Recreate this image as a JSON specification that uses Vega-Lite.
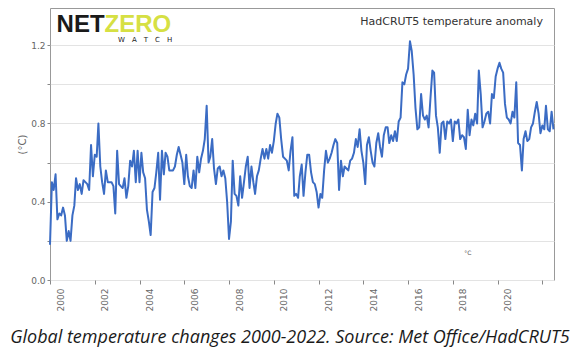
{
  "$schema": "https://vega.github.io/schema/vega-lite/v6.json",
  "autosize": {"type": "none"},
  "width": 504,
  "height": 272,
  "padding": {"left": 50, "top": 8, "right": 22, "bottom": 76},
  "background": "white",
  "title": {"text": "Global temperature changes 2000-2022. Source: Met Office/HadCRUT5", "orient": "bottom", "anchor": "middle", "frame": "group", "font": "Open Sans", "fontStyle": "italic", "fontWeight": "normal", "fontSize": 18, "color": "#1a1a1a", "offset": 18, "dx": -12},
  "config": {
    "view": {"stroke": "#999", "strokeWidth": 1},
    "axis": {"labelFont": "DejaVu Sans", "labelColor": "#666", "labelFontSize": 9, "titleFont": "DejaVu Sans", "titleColor": "#666", "titleFontWeight": "normal", "domain": false, "tickColor": "#888"}
  },
  "layer": [
    {
      "data": {"values": [
        {"date":"2000-01","anomaly":0.18},{"date":"2000-02","anomaly":0.50},{"date":"2000-03","anomaly":0.46},{"date":"2000-04","anomaly":0.54},{"date":"2000-05","anomaly":0.31},{"date":"2000-06","anomaly":0.34},{"date":"2000-07","anomaly":0.33},{"date":"2000-08","anomaly":0.37},{"date":"2000-09","anomaly":0.33},{"date":"2000-10","anomaly":0.20},{"date":"2000-11","anomaly":0.25},{"date":"2000-12","anomaly":0.20},
        {"date":"2001-01","anomaly":0.33},{"date":"2001-02","anomaly":0.38},{"date":"2001-03","anomaly":0.52},{"date":"2001-04","anomaly":0.46},{"date":"2001-05","anomaly":0.49},{"date":"2001-06","anomaly":0.44},{"date":"2001-07","anomaly":0.51},{"date":"2001-08","anomaly":0.50},{"date":"2001-09","anomaly":0.49},{"date":"2001-10","anomaly":0.46},{"date":"2001-11","anomaly":0.69},{"date":"2001-12","anomaly":0.53},
        {"date":"2002-01","anomaly":0.64},{"date":"2002-02","anomaly":0.63},{"date":"2002-03","anomaly":0.80},{"date":"2002-04","anomaly":0.58},{"date":"2002-05","anomaly":0.50},{"date":"2002-06","anomaly":0.44},{"date":"2002-07","anomaly":0.56},{"date":"2002-08","anomaly":0.50},{"date":"2002-09","anomaly":0.50},{"date":"2002-10","anomaly":0.50},{"date":"2002-11","anomaly":0.48},{"date":"2002-12","anomaly":0.34},
        {"date":"2003-01","anomaly":0.66},{"date":"2003-02","anomaly":0.49},{"date":"2003-03","anomaly":0.48},{"date":"2003-04","anomaly":0.47},{"date":"2003-05","anomaly":0.52},{"date":"2003-06","anomaly":0.42},{"date":"2003-07","anomaly":0.48},{"date":"2003-08","anomaly":0.61},{"date":"2003-09","anomaly":0.58},{"date":"2003-10","anomaly":0.66},{"date":"2003-11","anomaly":0.50},{"date":"2003-12","anomaly":0.66},
        {"date":"2004-01","anomaly":0.50},{"date":"2004-02","anomaly":0.65},{"date":"2004-03","anomaly":0.55},{"date":"2004-04","anomaly":0.52},{"date":"2004-05","anomaly":0.36},{"date":"2004-06","anomaly":0.30},{"date":"2004-07","anomaly":0.23},{"date":"2004-08","anomaly":0.45},{"date":"2004-09","anomaly":0.47},{"date":"2004-10","anomaly":0.55},{"date":"2004-11","anomaly":0.65},{"date":"2004-12","anomaly":0.41},
        {"date":"2005-01","anomaly":0.66},{"date":"2005-02","anomaly":0.54},{"date":"2005-03","anomaly":0.65},{"date":"2005-04","anomaly":0.63},{"date":"2005-05","anomaly":0.56},{"date":"2005-06","anomaly":0.56},{"date":"2005-07","anomaly":0.56},{"date":"2005-08","anomaly":0.58},{"date":"2005-09","anomaly":0.64},{"date":"2005-10","anomaly":0.68},{"date":"2005-11","anomaly":0.64},{"date":"2005-12","anomaly":0.60},
        {"date":"2006-01","anomaly":0.49},{"date":"2006-02","anomaly":0.64},{"date":"2006-03","anomaly":0.53},{"date":"2006-04","anomaly":0.48},{"date":"2006-05","anomaly":0.47},{"date":"2006-06","anomaly":0.56},{"date":"2006-07","anomaly":0.47},{"date":"2006-08","anomaly":0.63},{"date":"2006-09","anomaly":0.55},{"date":"2006-10","anomaly":0.62},{"date":"2006-11","anomaly":0.66},{"date":"2006-12","anomaly":0.72},
        {"date":"2007-01","anomaly":0.89},{"date":"2007-02","anomaly":0.60},{"date":"2007-03","anomaly":0.63},{"date":"2007-04","anomaly":0.72},{"date":"2007-05","anomaly":0.57},{"date":"2007-06","anomaly":0.49},{"date":"2007-07","anomaly":0.57},{"date":"2007-08","anomaly":0.58},{"date":"2007-09","anomaly":0.53},{"date":"2007-10","anomaly":0.56},{"date":"2007-11","anomaly":0.52},{"date":"2007-12","anomaly":0.40},
        {"date":"2008-01","anomaly":0.21},{"date":"2008-02","anomaly":0.30},{"date":"2008-03","anomaly":0.61},{"date":"2008-04","anomaly":0.44},{"date":"2008-05","anomaly":0.43},{"date":"2008-06","anomaly":0.38},{"date":"2008-07","anomaly":0.53},{"date":"2008-08","anomaly":0.42},{"date":"2008-09","anomaly":0.50},{"date":"2008-10","anomaly":0.58},{"date":"2008-11","anomaly":0.63},{"date":"2008-12","anomaly":0.47},
        {"date":"2009-01","anomaly":0.58},{"date":"2009-02","anomaly":0.50},{"date":"2009-03","anomaly":0.44},{"date":"2009-04","anomaly":0.53},{"date":"2009-05","anomaly":0.56},{"date":"2009-06","anomaly":0.62},{"date":"2009-07","anomaly":0.67},{"date":"2009-08","anomaly":0.62},{"date":"2009-09","anomaly":0.67},{"date":"2009-10","anomaly":0.62},{"date":"2009-11","anomaly":0.69},{"date":"2009-12","anomaly":0.65},
        {"date":"2010-01","anomaly":0.71},{"date":"2010-02","anomaly":0.80},{"date":"2010-03","anomaly":0.85},{"date":"2010-04","anomaly":0.83},{"date":"2010-05","anomaly":0.72},{"date":"2010-06","anomaly":0.63},{"date":"2010-07","anomaly":0.62},{"date":"2010-08","anomaly":0.61},{"date":"2010-09","anomaly":0.56},{"date":"2010-10","anomaly":0.66},{"date":"2010-11","anomaly":0.73},{"date":"2010-12","anomaly":0.43},
        {"date":"2011-01","anomaly":0.44},{"date":"2011-02","anomaly":0.42},{"date":"2011-03","anomaly":0.53},{"date":"2011-04","anomaly":0.59},{"date":"2011-05","anomaly":0.43},{"date":"2011-06","anomaly":0.55},{"date":"2011-07","anomaly":0.64},{"date":"2011-08","anomaly":0.64},{"date":"2011-09","anomaly":0.55},{"date":"2011-10","anomaly":0.50},{"date":"2011-11","anomaly":0.49},{"date":"2011-12","anomaly":0.45},
        {"date":"2012-01","anomaly":0.37},{"date":"2012-02","anomaly":0.44},{"date":"2012-03","anomaly":0.42},{"date":"2012-04","anomaly":0.56},{"date":"2012-05","anomaly":0.66},{"date":"2012-06","anomaly":0.60},{"date":"2012-07","anomaly":0.62},{"date":"2012-08","anomaly":0.65},{"date":"2012-09","anomaly":0.69},{"date":"2012-10","anomaly":0.72},{"date":"2012-11","anomaly":0.70},{"date":"2012-12","anomaly":0.46},
        {"date":"2013-01","anomaly":0.61},{"date":"2013-02","anomaly":0.53},{"date":"2013-03","anomaly":0.58},{"date":"2013-04","anomaly":0.57},{"date":"2013-05","anomaly":0.56},{"date":"2013-06","anomaly":0.61},{"date":"2013-07","anomaly":0.62},{"date":"2013-08","anomaly":0.65},{"date":"2013-09","anomaly":0.72},{"date":"2013-10","anomaly":0.68},{"date":"2013-11","anomaly":0.77},{"date":"2013-12","anomaly":0.66},
        {"date":"2014-01","anomaly":0.60},{"date":"2014-02","anomaly":0.49},{"date":"2014-03","anomaly":0.69},{"date":"2014-04","anomaly":0.73},{"date":"2014-05","anomaly":0.66},{"date":"2014-06","anomaly":0.60},{"date":"2014-07","anomaly":0.58},{"date":"2014-08","anomaly":0.70},{"date":"2014-09","anomaly":0.75},{"date":"2014-10","anomaly":0.68},{"date":"2014-11","anomaly":0.63},{"date":"2014-12","anomaly":0.74},
        {"date":"2015-01","anomaly":0.78},{"date":"2015-02","anomaly":0.78},{"date":"2015-03","anomaly":0.70},{"date":"2015-04","anomaly":0.74},{"date":"2015-05","anomaly":0.71},{"date":"2015-06","anomaly":0.76},{"date":"2015-07","anomaly":0.71},{"date":"2015-08","anomaly":0.81},{"date":"2015-09","anomaly":0.83},{"date":"2015-10","anomaly":1.01},{"date":"2015-11","anomaly":1.00},{"date":"2015-12","anomaly":1.05},
        {"date":"2016-01","anomaly":1.08},{"date":"2016-02","anomaly":1.22},{"date":"2016-03","anomaly":1.17},{"date":"2016-04","anomaly":1.05},{"date":"2016-05","anomaly":0.88},{"date":"2016-06","anomaly":0.77},{"date":"2016-07","anomaly":0.78},{"date":"2016-08","anomaly":0.95},{"date":"2016-09","anomaly":0.84},{"date":"2016-10","anomaly":0.82},{"date":"2016-11","anomaly":0.84},{"date":"2016-12","anomaly":0.78},
        {"date":"2017-01","anomaly":0.93},{"date":"2017-02","anomaly":1.07},{"date":"2017-03","anomaly":1.06},{"date":"2017-04","anomaly":0.84},{"date":"2017-05","anomaly":0.78},{"date":"2017-06","anomaly":0.65},{"date":"2017-07","anomaly":0.80},{"date":"2017-08","anomaly":0.81},{"date":"2017-09","anomaly":0.72},{"date":"2017-10","anomaly":0.81},{"date":"2017-11","anomaly":0.80},{"date":"2017-12","anomaly":0.82},
        {"date":"2018-01","anomaly":0.71},{"date":"2018-02","anomaly":0.81},{"date":"2018-03","anomaly":0.80},{"date":"2018-04","anomaly":0.82},{"date":"2018-05","anomaly":0.72},{"date":"2018-06","anomaly":0.74},{"date":"2018-07","anomaly":0.73},{"date":"2018-08","anomaly":0.67},{"date":"2018-09","anomaly":0.87},{"date":"2018-10","anomaly":0.74},{"date":"2018-11","anomaly":0.82},{"date":"2018-12","anomaly":0.79},
        {"date":"2019-01","anomaly":0.85},{"date":"2019-02","anomaly":0.80},{"date":"2019-03","anomaly":1.07},{"date":"2019-04","anomaly":0.95},{"date":"2019-05","anomaly":0.78},{"date":"2019-06","anomaly":0.81},{"date":"2019-07","anomaly":0.85},{"date":"2019-08","anomaly":0.86},{"date":"2019-09","anomaly":0.80},{"date":"2019-10","anomaly":0.95},{"date":"2019-11","anomaly":0.93},{"date":"2019-12","anomaly":1.04},
        {"date":"2020-01","anomaly":1.08},{"date":"2020-02","anomaly":1.11},{"date":"2020-03","anomaly":1.08},{"date":"2020-04","anomaly":1.06},{"date":"2020-05","anomaly":0.90},{"date":"2020-06","anomaly":0.83},{"date":"2020-07","anomaly":0.82},{"date":"2020-08","anomaly":0.80},{"date":"2020-09","anomaly":0.86},{"date":"2020-10","anomaly":0.83},{"date":"2020-11","anomaly":1.01},{"date":"2020-12","anomaly":0.70},
        {"date":"2021-01","anomaly":0.69},{"date":"2021-02","anomaly":0.56},{"date":"2021-03","anomaly":0.72},{"date":"2021-04","anomaly":0.76},{"date":"2021-05","anomaly":0.71},{"date":"2021-06","anomaly":0.72},{"date":"2021-07","anomaly":0.78},{"date":"2021-08","anomaly":0.80},{"date":"2021-09","anomaly":0.86},{"date":"2021-10","anomaly":0.91},{"date":"2021-11","anomaly":0.85},{"date":"2021-12","anomaly":0.75},
        {"date":"2022-01","anomaly":0.79},{"date":"2022-02","anomaly":0.77},{"date":"2022-03","anomaly":0.89},{"date":"2022-04","anomaly":0.77},{"date":"2022-05","anomaly":0.76},{"date":"2022-06","anomaly":0.86},{"date":"2022-07","anomaly":0.77}
      ]},
      "mark": {"type": "line", "color": "#3b6cc4", "strokeWidth": 2, "strokeJoin": "round"},
      "encoding": {
        "x": {"field": "date", "type": "temporal",
          "scale": {"domain": [{"year": 2000, "month": 1, "date": 1}, {"year": 2022, "month": 7, "date": 10}], "nice": false},
          "axis": {"title": null, "grid": false, "labelAngle": 270, "labelOffset": 10, "labelPadding": 4, "tickSize": 4,
            "values": [{"year":2000,"month":1,"date":1},{"year":2001,"month":1,"date":1},{"year":2002,"month":1,"date":1},{"year":2003,"month":1,"date":1},{"year":2004,"month":1,"date":1},{"year":2005,"month":1,"date":1},{"year":2006,"month":1,"date":1},{"year":2007,"month":1,"date":1},{"year":2008,"month":1,"date":1},{"year":2009,"month":1,"date":1},{"year":2010,"month":1,"date":1},{"year":2011,"month":1,"date":1},{"year":2012,"month":1,"date":1},{"year":2013,"month":1,"date":1},{"year":2014,"month":1,"date":1},{"year":2015,"month":1,"date":1},{"year":2016,"month":1,"date":1},{"year":2017,"month":1,"date":1},{"year":2018,"month":1,"date":1},{"year":2019,"month":1,"date":1},{"year":2020,"month":1,"date":1},{"year":2021,"month":1,"date":1},{"year":2022,"month":1,"date":1}],
            "labelExpr": "year(datum.value) % 2 === 0 && year(datum.value) < 2022 ? timeFormat(datum.value, '%Y') : ''"}},
        "y": {"field": "anomaly", "type": "quantitative",
          "scale": {"domain": [0, 1.39], "nice": false, "zero": false},
          "axis": {"title": "(°C)", "titleFontSize": 10, "titlePadding": 3, "values": [0, 0.2, 0.4, 0.6, 0.8, 1.0, 1.2], "labelExpr": "(datum.value * 10) % 4 === 0 ? format(datum.value, '.1f') : ''", "gridColor": "#e3e3e3", "gridWidth": 1, "tickSize": 3, "labelPadding": 2}}
      }
    },
    {
      "data": {"values": [{"label": "NET"}]},
      "mark": {"type": "text", "font": "Liberation Sans", "fontWeight": "bold", "fontSize": 24, "color": "#1a1a1a", "align": "left", "baseline": "alphabetic"},
      "encoding": {"x": {"datum": {"year": 2000, "month": 4, "date": 17}, "type": "temporal"}, "y": {"datum": 1.268}, "text": {"field": "label"}}
    },
    {
      "data": {"values": [{"label": "ZERO"}]},
      "mark": {"type": "text", "font": "Liberation Sans", "fontWeight": "bold", "fontSize": 24, "color": "#d6e043", "align": "left", "baseline": "alphabetic"},
      "encoding": {"x": {"datum": {"year": 2002, "month": 6, "date": 10}, "type": "temporal"}, "y": {"datum": 1.268}, "text": {"field": "label"}}
    },
    {
      "data": {"values": [{"label": "W\u2003A\u2003T\u2003C\u2003H"}]},
      "mark": {"type": "text", "font": "DejaVu Sans", "fontSize": 7, "color": "#1a1a1a", "align": "center", "baseline": "alphabetic"},
      "encoding": {"x": {"datum": {"year": 2004, "month": 4, "date": 1}, "type": "temporal"}, "y": {"datum": 1.216}, "text": {"field": "label"}}
    },
    {
      "data": {"values": [{"label": "HadCRUT5 temperature anomaly"}]},
      "mark": {"type": "text", "font": "DejaVu Sans", "fontSize": 11, "color": "#333", "align": "right", "baseline": "alphabetic"},
      "encoding": {"x": {"datum": {"year": 2022, "month": 1, "date": 10}, "type": "temporal"}, "y": {"datum": 1.304}, "text": {"field": "label"}}
    },
    {
      "data": {"values": [{"label": "°C"}]},
      "mark": {"type": "text", "font": "DejaVu Sans", "fontSize": 6, "color": "#555", "align": "center", "baseline": "middle"},
      "encoding": {"x": {"datum": {"year": 2018, "month": 9, "date": 1}, "type": "temporal"}, "y": {"datum": 0.138}, "text": {"field": "label"}}
    }
  ]
}
